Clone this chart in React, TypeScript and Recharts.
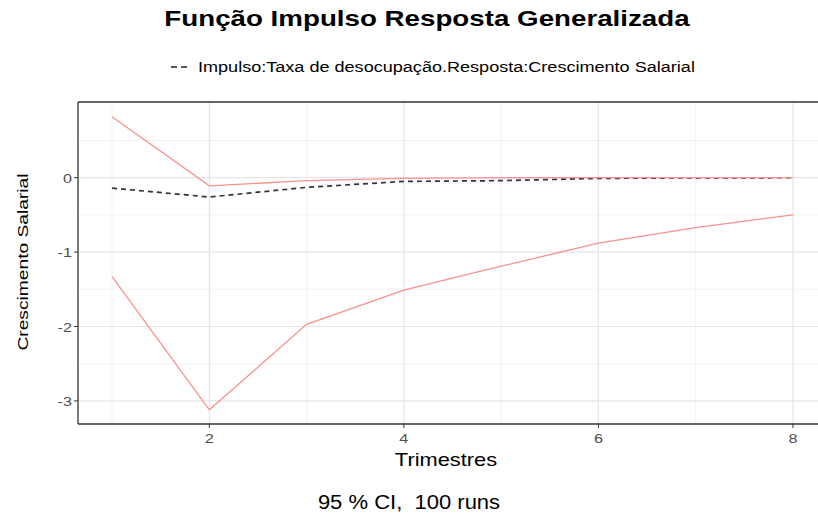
import React from "react";
import { LineChart, Line, XAxis, YAxis, ReferenceLine } from "recharts";

// horizonte (trimestres)
const trimestres = [1, 2, 3, 4, 5, 6, 7, 8];
const irf = [-0.14, -0.26, -0.13, -0.05, -0.04, -0.01, -0.002, -0.001];
const upper = [0.82, -0.11, -0.04, -0.01, 0.0, 0.0, 0.0, 0.0];
const lower = [-1.33, -3.12, -1.97, -1.51, -1.19, -0.88, -0.67, -0.5];

const xTicks = [2, 4, 6, 8];
const xMinor = [1, 3, 5, 7];
const yTicks = [-3, -2, -1, 0];
const yMinor = [-2.5, -1.5, -0.5, 0.5];

const data = trimestres.map((t, i) => ({
  x: t,
  irf: irf[i],
  upper: upper[i],
  lower: lower[i],
}));

const X_DOMAIN: [number, number] = [0.65, 8.35];
const Y_DOMAIN: [number, number] = [-3.31, 1.017];

const FONT = "'Liberation Sans', Arial, sans-serif";
const RED = "#f7928d";

// texto esticado na horizontal, como na imagem original
const Txt = ({ x, y, size, sx = 1, bold = false, anchor = "center", children }) => (
  <div
    style={{
      position: "absolute",
      left: x,
      top: y,
      transform:
        anchor === "center"
          ? `translateX(-50%) scaleX(${sx})`
          : `scaleX(${sx})`,
      transformOrigin: anchor === "center" ? "50% 50%" : "0 50%",
      whiteSpace: "nowrap",
      fontSize: size,
      lineHeight: 1,
      fontWeight: bold ? 700 : 400,
      color: "#000",
    }}
  >
    {children}
  </div>
);

const YTick = ({ x, y, payload }) => (
  <text
    x={x}
    y={y}
    dy={5}
    textAnchor="end"
    fontSize={13.5}
    fill="#4d4d4d"
    fontFamily={FONT}
    transform={`translate(${x},${y}) scale(1.2,1) translate(${-x},${-y})`}
  >
    {payload.value}
  </text>
);

const XTick = ({ x, y, payload }) => (
  <text
    x={x}
    y={y}
    dy={13}
    textAnchor="middle"
    fontSize={13.5}
    fill="#4d4d4d"
    fontFamily={FONT}
    transform={`translate(${x},${y}) scale(1.2,1) translate(${-x},${-y})`}
  >
    {payload.value}
  </text>
);

export default function App() {
  return (
    <div
      style={{
        position: "relative",
        width: 818,
        height: 516,
        overflow: "hidden",
        background: "#fff",
        fontFamily: FONT,
      }}
    >
      <style>{"html,body{margin:0;padding:0;overflow:hidden;}"}</style>

      <Txt x={427} y={8} size={22} sx={1.26} bold>
        Função Impulso Resposta Generalizada
      </Txt>

      <svg
        width={20}
        height={10}
        style={{ position: "absolute", left: 171, top: 62 }}
      >
        <line x1={0} y1={5} x2={19} y2={5} stroke="#222" strokeWidth={1.5} strokeDasharray="6 4" />
      </svg>
      <Txt x={198} y={60} size={14} sx={1.29} anchor="left">
        Impulso:Taxa de desocupação.Resposta:Crescimento Salarial
      </Txt>

      <div
        style={{
          position: "absolute",
          left: 21.5,
          top: 262,
          transform: "translate(-50%, -50%) rotate(-90deg) scaleX(1.28)",
          whiteSpace: "nowrap",
          fontSize: 15,
          lineHeight: 1,
          color: "#000",
        }}
      >
        Crescimento Salarial
      </div>

      <div style={{ position: "absolute", left: 0, top: 0 }}>
        <LineChart
          width={840}
          height={516}
          data={data}
          margin={{ top: 102, right: 13, bottom: 62, left: 0 }}
        >
          {xMinor.map((v) => (
            <ReferenceLine key={"xm" + v} x={v} stroke="#f2f2f2" strokeWidth={1} />
          ))}
          {yMinor.map((v) => (
            <ReferenceLine key={"ym" + v} y={v} stroke="#f2f2f2" strokeWidth={1} ifOverflow="visible" />
          ))}
          {xTicks.map((v) => (
            <ReferenceLine key={"xM" + v} x={v} stroke="#e6e6e6" strokeWidth={1.2} />
          ))}
          {yTicks.map((v) => (
            <ReferenceLine key={"yM" + v} y={v} stroke="#e6e6e6" strokeWidth={1.2} />
          ))}
          <ReferenceLine y={Y_DOMAIN[1]} stroke="#333" strokeWidth={1.3} ifOverflow="visible" />
          <XAxis
            type="number"
            dataKey="x"
            domain={X_DOMAIN}
            ticks={xTicks}
            allowDataOverflow
            height={30}
            tickSize={4}
            axisLine={{ stroke: "#333", strokeWidth: 1.3 }}
            tickLine={{ stroke: "#333" }}
            tick={XTick}
          />
          <YAxis
            type="number"
            domain={Y_DOMAIN}
            ticks={yTicks}
            allowDataOverflow
            width={78}
            tickSize={4}
            axisLine={{ stroke: "#333", strokeWidth: 1.3 }}
            tickLine={{ stroke: "#333" }}
            tick={YTick}
          />
          <Line
            dataKey="irf"
            stroke="#333"
            strokeWidth={1.7}
            strokeDasharray="5 4"
            dot={false}
            isAnimationActive={false}
          />
          <Line dataKey="upper" stroke={RED} strokeWidth={1.3} dot={false} isAnimationActive={false} />
          <Line dataKey="lower" stroke={RED} strokeWidth={1.3} dot={false} isAnimationActive={false} />
        </LineChart>
      </div>

      <Txt x={446} y={451} size={18.5} sx={1.18}>
        Trimestres
      </Txt>
      <Txt x={409} y={492} size={20} sx={1.1}>
        95 % CI,&nbsp; 100 runs
      </Txt>
    </div>
  );
}
